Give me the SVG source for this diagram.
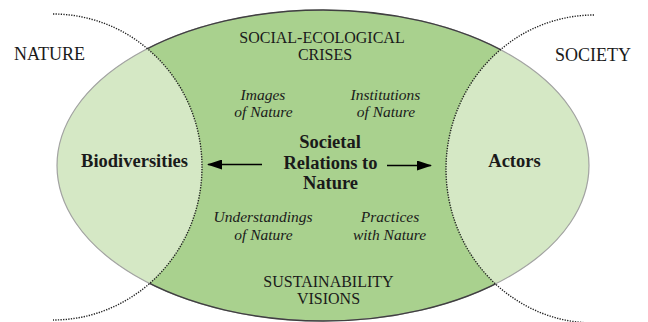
<svg xmlns="http://www.w3.org/2000/svg" width="648" height="322" viewBox="0 0 648 322">
  <style>
    .lbl { fill: #1a1a1a; }
    .caps { font-size: 16px; text-anchor: middle; }
    .side { font-size: 18px; }
    .it { font-size: 15.5px; font-style: italic; text-anchor: middle; }
    .bold { font-size: 18.5px; font-weight: bold; text-anchor: middle; }
    .dots { fill: none; stroke: #222; stroke-width: 1.4; stroke-dasharray: 1.3 1.3; }
    .arrow { stroke: #000; stroke-width: 1.6; fill: none; marker-end: url(#head); }
  </style>
  <defs>
    <clipPath id="main-clip">
      <ellipse cx="323" cy="165.5" rx="266" ry="155.5"/>
    </clipPath>
    <mask id="outer-mask">
      <rect x="0" y="0" width="648" height="322" fill="#fff"/>
      <ellipse cx="53" cy="167" rx="149" ry="153" fill="#000"/>
      <ellipse cx="594" cy="169" rx="148" ry="154" fill="#000"/>
    </mask>
    <marker id="head" viewBox="0 0 15 10" refX="14" refY="5" markerWidth="15" markerHeight="10" markerUnits="userSpaceOnUse" orient="auto">
      <path d="M0,0 L15,5 L0,10 Z" fill="#000"/>
    </marker>
  </defs>

  <!-- central field: societal relations to nature -->
  <g id="relations-field">
    <ellipse cx="323" cy="165.5" rx="266" ry="155.5" fill="#a9d18e"/>
  </g>

  <!-- nature side lens -->
  <g id="nature-lens">
    <ellipse cx="53" cy="167" rx="149" ry="153" fill="#d5e8c5" clip-path="url(#main-clip)"/>
  </g>

  <!-- society side lens -->
  <g id="society-lens">
    <ellipse cx="594" cy="169" rx="148" ry="154" fill="#d5e8c5" clip-path="url(#main-clip)"/>
  </g>

  <!-- outlines -->
  <g id="outlines">
    <ellipse cx="323" cy="165.5" rx="266" ry="155.5" fill="none" stroke="#a3a3a3" stroke-width="1.2"/>
    <ellipse cx="323" cy="165.5" rx="266" ry="155.5" fill="none" stroke="#404040" stroke-width="1.4" mask="url(#outer-mask)"/>
    <path class="dots" d="M53,14 A149,153 0 0 1 53,320"/>
    <path class="dots" d="M594,15 A148,154 0 0 0 594,323"/>
  </g>

  <!-- connectors -->
  <g id="connectors">
    <line class="arrow" x1="262" y1="164.5" x2="208" y2="164.5"/>
    <line class="arrow" x1="387" y1="165.5" x2="431" y2="165.5"/>
  </g>

  <g font-family="'Liberation Serif', 'Times New Roman', Tinos, 'DejaVu Serif', serif">
    <g id="nature-label">
      <text class="lbl side" x="14" y="60">NATURE</text>
    </g>
    <g id="society-label">
      <text class="lbl side" x="555" y="61">SOCIETY</text>
    </g>

    <g id="crises">
      <text class="lbl caps" x="322" y="43">SOCIAL-ECOLOGICAL</text>
      <text class="lbl caps" x="325" y="60">CRISES</text>
    </g>
    <g id="visions">
      <text class="lbl caps" x="328.5" y="287">SUSTAINABILITY</text>
      <text class="lbl caps" x="328.5" y="304">VISIONS</text>
    </g>

    <g id="images">
      <text class="lbl it" x="263" y="100">Images</text>
      <text class="lbl it" x="263.5" y="117">of Nature</text>
    </g>
    <g id="institutions">
      <text class="lbl it" x="385.5" y="100">Institutions</text>
      <text class="lbl it" x="386" y="117">of Nature</text>
    </g>
    <g id="understandings">
      <text class="lbl it" x="263" y="222">Understandings</text>
      <text class="lbl it" x="263.5" y="240">of Nature</text>
    </g>
    <g id="practices">
      <text class="lbl it" x="390" y="222">Practices</text>
      <text class="lbl it" x="389.5" y="240">with Nature</text>
    </g>

    <g id="societal-relations">
      <text class="lbl bold" x="330" y="148">Societal</text>
      <text class="lbl bold" x="330.5" y="169">Relations to</text>
      <text class="lbl bold" x="330.5" y="189">Nature</text>
    </g>
    <g id="biodiversities">
      <text class="lbl bold" x="134.5" y="167">Biodiversities</text>
    </g>
    <g id="actors">
      <text class="lbl bold" x="514.5" y="167">Actors</text>
    </g>
  </g>
</svg>
